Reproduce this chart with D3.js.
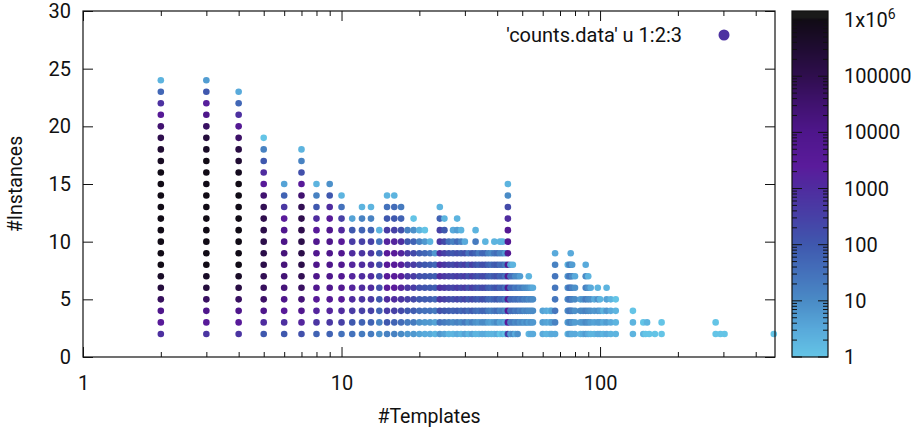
<!DOCTYPE html>
<html><head><meta charset="utf-8">
<script src="https://cdn.jsdelivr.net/npm/d3@7"></script>
<style>
body{margin:0;background:#fff}
svg{display:block}
text{font-family:Roboto,'Noto Sans',sans-serif;fill:#111}
</style>
</head><body>
<svg id="c" width="918" height="434"></svg>
<script>
// ---- data (counts for #Instances = 2, 3, 4, ... ; null = no point) ----
const firstInstance = 2;
const templates = [2,3,4,5,6,7,8,9,10,11,12,13,14,15,16,17,18,19,20,21,22,23,24,25,26,27,28,29,30,31,32,33,34,35,36,37,38,39,40,41,42,43,44,45,46,47,48,49,50,51,52,53,54,55,60,62,64,65,67,75,76,77,78,80,84,86,88,90,92,95,98,100,103,106,110,115,134,147,150,152,155,163,173,280,292,303,470];
const counts = [
 [800,3000,1e4,6e4,2e5,5e5,1e6,1e6,1e6,1e6,1e6,1e6,1e6,1e6,1e6,6e5,3e5,1e5,3e4,4000,700,50,2],
 [600,3000,1e4,5e4,2e5,5e5,1e6,1e6,1e6,1e6,1e6,1e6,1e6,1e6,1e6,1e6,5e5,2e5,5e4,1e4,2000,100,5],
 [600,3000,1e4,5e4,1.5e5,5e5,1e6,1e6,1e6,1e6,1e6,1e6,1e6,1e6,7e5,3e5,1.5e5,4e4,5000,800,50,3],
 [100,1000,1e4,4e4,6e4,8e4,1.2e5,1.2e5,1.2e5,1.2e5,1e5,8e4,3e4,3000,1000,100,15,1],
 [100,800,3000,1e4,2e4,2.5e4,2e4,2e4,1.2e4,8000,2500,500,60,4],
 [150,1500,8000,2e4,5e4,8e4,1.2e5,1.2e5,1.2e5,1e5,1e5,8e4,3e4,3000,150,15,2],
 [60,600,1500,3000,7000,1e4,1e4,8000,8000,3000,1000,100,15,2],
 [60,500,1500,4000,8000,1e4,1e4,1e4,1e4,8000,3000,1000,100,8],
 [30,300,1000,3000,6000,6000,6000,6000,3000,1200,300,30,2],
 [30,100,400,1000,1500,1500,1500,1000,400,100,4],
 [20,60,300,600,1000,1000,1000,600,300,60,15,2],
 [20,60,300,500,1000,1000,800,500,300,60,15,2],
 [8,15,60,100,150,150,200,100,30,2],
 [15,100,400,1000,2500,3000,3000,3000,1500,400,100,30,2],
 [15,60,300,1000,2500,3000,3000,3000,1500,300,100,40,2],
 [10,40,200,600,1500,2000,2000,1500,800,150,60,20],
 [6,20,100,300,500,500,500,400,100,15],
 [6,20,80,200,400,400,400,200,60,8,1],
 [4,8,40,100,150,150,150,80,15,2],
 [3,6,30,80,120,120,100,50,6,1],
 [3,6,30,80,100,100,80,30,2],
 [2,4,20,50,80,80,50,6],
 [6,30,150,500,800,1000,1000,800,500,300,60,2],
 [4,20,100,300,500,500,500,300,200,100,2],
 [2,15,80,200,300,300,250,150,30],
 [2,10,60,150,250,250,200,100,15,3],
 [3,15,80,250,400,400,350,150,40,5,2],
 [2,10,50,150,250,250,200,100,15,2],
 [4,20,80,250,400,400,350,150,3],
 [2,8,40,100,150,150,100,30],
 [4,15,80,200,350,350,300,100],
 [2,8,40,120,200,200,150,60,20,2],
 [2,6,30,80,120,120,80,20],
 [3,10,50,150,200,200,150,50],
 [3,10,50,120,200,200,150,50,2],
 [2,5,20,50,80,80,60,15],
 [2,4,15,40,60,60,40,10],
 [2,6,25,60,100,100,80,25,2],
 [3,10,40,100,150,150,100,40],
 [1,4,15,40,60,60,40,15,2],
 [2,5,20,50,80,80,50,15,2],
 [1,3,10,20,30,30,20,5],
 [400,3000,4000,4000,5000,5000,5000,5000,5000,5000,1000,200,10,2],
 [5,15,30,40,40,30,4],
 [10,20,40,50,50,30,2],
 [3,10,20,30,20,10],
 [8,15,30,40,30,10],
 [null,8,15,20,15,5],
 [null,10,20,30,20],
 [null,6,10,15,10],
 [null,10,15,20,10],
 [2,5,10,10,8,2],
 [3,8,10,15,5],
 [3,6,10,10,3],
 [3,5,4],
 [2,4,3],
 [2,3,2],
 [3,5,4],
 [3,15,25,25,25,25,15,3],
 [2,5,10,10,8,6,2],
 [5,10,20,25,25,20,10],
 [5,15,25,30,30,25,15,3],
 [3,8,15,15,15,10,5],
 [3,5,8,10,8,3],
 [2,5,10,5],
 [3,6,10,8],
 [5,10,15,20,15,10,3],
 [3,8,10,10,8,2],
 [2,5,8,8,3],
 [2,4,6,3],
 [3,5,8,8,2],
 [3,5,5,2],
 [2,3,2],
 [3,5,6,4,2],
 [2,3,3,2],
 [2,2,2,1],
 [2,2,1],
 [2,1],
 [1],
 [null,2],
 [1],
 [1],
 [1,1],
 [1,1],
 [1],
 [1],
 [1]
];
const xTicks = [1, 10, 100];
const yTicks = [0, 5, 10, 15, 20, 25, 30];
const cbTicks = [1, 10, 100, 1000, 10000, 100000, 1000000];
const cbLabels = ["1", "10", "100", "1000", "10000", "100000", "1x10^6"];
const paletteStops = [0, 0.5, 1, 1.5, 2, 2.5, 3, 3.4, 4, 4.5, 5, 5.5, 6, 6.05, 6.2];
const paletteColors = ["#64c4e6","#58a9da","#4a8bc6","#4471bb","#3f58ae","#4740a6","#4f2c9f","#5a1b9b","#4e168b","#40126f","#2f0e4e","#1f0c32","#110b16","#1a1a1a","#1a1a1a"];
const legendLabel = "'counts.data' u 1:2:3";
const xLabel = "#Templates", yLabel = "#Instances";

// ---- layout ----
const L = 83, R = 775, T = 11, B = 357;
const CBL = 792, CBR = 828, cbMax = 1.45e6;
const svg = d3.select("#c");
const x = d3.scaleLog().domain([1, 475]).range([L, R]);
const y = d3.scaleLinear().domain([0, 30]).range([B, T]);
const cy = d3.scaleLog().domain([1, cbMax]).range([B, T]);
const pal = d3.scaleLinear().domain(paletteStops).range(paletteColors).interpolate(d3.interpolateRgb).clamp(true);
const colorOf = v => pal(Math.log10(v));

const points = [];
templates.forEach((t, i) => counts[i].forEach((c, k) => { if (c != null) points.push({t, n: firstInstance + k, c}); }));

// points
svg.append("g").selectAll("circle").data(points).join("circle")
  .attr("cx", d => x(d.t)).attr("cy", d => y(d.n)).attr("r", 3.3)
  .attr("fill", d => colorOf(d.c));

// minor x ticks
const minorX = [];
for (let dec = 1; dec <= 100; dec *= 10) for (let m = 2; m <= 9; m++) if (m*dec < 475) minorX.push(m*dec);

const fs = 20, fsLab = 19.5;
// bottom axis
const gx = svg.append("g").attr("transform", `translate(0,${B})`)
  .call(d3.axisBottom(x).tickValues(xTicks).tickFormat(d3.format("d")).tickSizeInner(-10).tickSizeOuter(0).tickPadding(19));
gx.select(".domain").remove();
gx.selectAll("text").attr("font-size", fs).attr("font-family", "Roboto");
gx.selectAll("line").attr("stroke", "#111");
const gxm = svg.append("g").attr("transform", `translate(0,${B})`)
  .call(d3.axisBottom(x).tickValues(minorX).tickFormat("").tickSizeInner(-5).tickSizeOuter(0));
gxm.select(".domain").remove(); gxm.selectAll("line").attr("stroke", "#111");
// top mirror
[[xTicks, 10], [minorX, 5]].forEach(([vals, len]) => {
  const g = svg.append("g").attr("transform", `translate(0,${T})`)
    .call(d3.axisTop(x).tickValues(vals).tickFormat("").tickSizeInner(-len).tickSizeOuter(0));
  g.select(".domain").remove(); g.selectAll("line").attr("stroke", "#111");
});
// left axis
const gy = svg.append("g").attr("transform", `translate(${L},0)`)
  .call(d3.axisLeft(y).tickValues(yTicks).tickSizeInner(-10).tickSizeOuter(0).tickPadding(12));
gy.select(".domain").remove();
gy.selectAll("text").attr("font-size", fs).attr("font-family", "Roboto");
gy.selectAll("line").attr("stroke", "#111");
const gyr = svg.append("g").attr("transform", `translate(${R},0)`)
  .call(d3.axisRight(y).tickValues(yTicks).tickFormat("").tickSizeInner(-10).tickSizeOuter(0));
gyr.select(".domain").remove(); gyr.selectAll("line").attr("stroke", "#111");

// border
svg.append("rect").attr("x", L).attr("y", T).attr("width", R - L).attr("height", B - T)
  .attr("fill", "none").attr("stroke", "#111").attr("stroke-width", 1.2);

// axis labels
svg.append("text").attr("x", (L + R) / 2).attr("y", 423).attr("text-anchor", "middle").attr("font-size", fsLab).text(xLabel);
svg.append("text").attr("transform", `translate(22,${(T + B) / 2}) rotate(-90)`).attr("text-anchor", "middle").attr("font-size", fsLab).text(yLabel);

// legend
svg.append("text").attr("x", 682).attr("y", 42).attr("text-anchor", "end").attr("font-size", fs).text(legendLabel);
svg.append("circle").attr("cx", 724).attr("cy", 35).attr("r", 5.5).attr("fill", colorOf(700));

// colorbar
const cb = svg.append("g");
for (let py = T; py < B; py += 1) {
  const v = cy.invert(py + 0.5);
  cb.append("rect").attr("x", CBL).attr("y", py).attr("width", CBR - CBL).attr("height", 1.2).attr("fill", colorOf(v));
}
const cbMinor = [];
for (let dec = 1; dec <= 1e6; dec *= 10) for (let m = 2; m <= 9; m++) if (m*dec < cbMax) cbMinor.push(m*dec);
[[cbTicks, 10], [cbMinor, 5]].forEach(([vals, len]) => {
  cb.selectAll(null).data(vals).join("line").attr("x1", CBL).attr("x2", CBL + len)
    .attr("y1", d => cy(d)).attr("y2", d => cy(d)).attr("stroke", "#111");
  cb.selectAll(null).data(vals).join("line").attr("x1", CBR - len).attr("x2", CBR)
    .attr("y1", d => cy(d)).attr("y2", d => cy(d)).attr("stroke", "#111");
});
cb.append("rect").attr("x", CBL).attr("y", T).attr("width", CBR - CBL).attr("height", B - T)
  .attr("fill", "none").attr("stroke", "#111").attr("stroke-width", 1.2);
cbTicks.forEach((v, i) => {
  const t = cb.append("text").attr("x", 844).attr("y", cy(v)).attr("dy", "0.35em").attr("font-size", fs);
  const lab = cbLabels[i];
  if (lab.includes("^")) {
    const [base, exp] = lab.split("^");
    t.append("tspan").text(base);
    t.append("tspan").attr("font-size", 14).attr("dy", -8).text(exp);
  } else t.text(lab);
});
</script>
</body></html>
